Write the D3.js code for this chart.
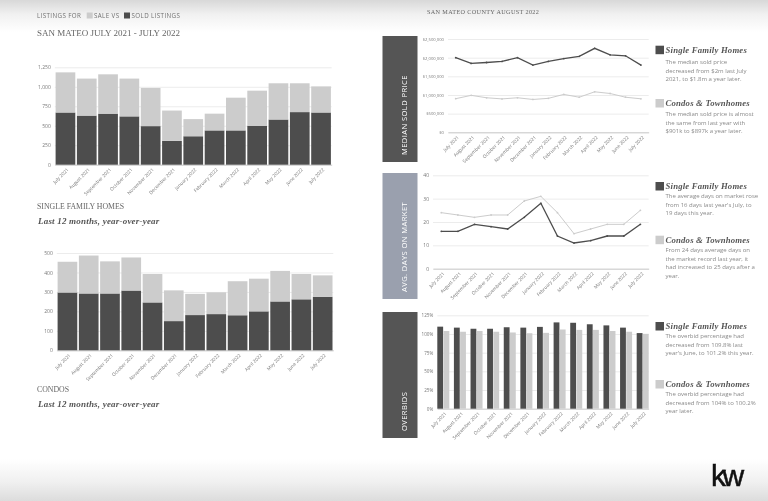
<!DOCTYPE html>
<html>
<head>
<meta charset="utf-8">
<script src="https://cdn.jsdelivr.net/npm/d3@7"></script>
<style>
  html, body { margin: 0; padding: 0; background: #fff; overflow: hidden; }
  svg { display: block; filter: blur(0.35px); }
</style>
</head>
<body>
<svg id="chart" width="768" height="501"></svg>
<script>
const months = ['July 2021', 'August 2021', 'September 2021', 'October 2021', 'November 2021', 'December 2021',
  'January 2022', 'February 2022', 'March 2022', 'April 2022', 'May 2022', 'June 2022', 'July 2022 ']

const houseSold = [670, 630, 655, 620, 495, 305, 365, 440, 440, 500, 580, 675, 670]
const houseForSale = [515, 475, 505, 485, 490, 390, 220, 215, 420, 450, 465, 370, 335]
const condoSold = [297, 292, 292, 307, 246, 150, 181, 186, 180, 200, 251, 262, 275]
const condoForSale = [158, 195, 165, 170, 146, 158, 109, 112, 175, 168, 157, 130, 110]

const priceHouse = [2000000, 1845000, 1870000, 1900000, 2000000, 1800000, 1900000, 1975000, 2035000, 2250000, 2075000, 2050000, 1800000]
const priceCondo = [901000, 990000, 925000, 895000, 925000, 880000, 910000, 1015000, 940000, 1085000, 1040000, 940000, 897000]
const daysHouse = [16, 16, 19, 18, 17, 22, 28, 14, 11, 12, 14, 14, 19]
const daysCondo = [24, 23, 22, 23, 23, 29, 31, 24, 15, 17, 19, 19, 25]
const overbidHouse = [109.8, 108.5, 107, 107, 109, 108.5, 109.5, 115.5, 115, 113, 111.5, 108.5, 101.2]
const overbidCondo = [104, 103, 104, 103, 102, 101, 101.5, 106, 105.5, 105.5, 104, 103, 100.2]

const dark = '#4d4d4d'
const light = '#cccccc'
const gridColor = '#ececec'
const tickColor = '#777'
const headFont = '"Liberation Serif", serif'
const bodyFont = '"Open Sans", sans-serif'

const svg = d3.select('#chart')

// top and bottom grey fades
const defs = svg.append('defs')
const fade = (id, stops) => {
  const g = defs.append('linearGradient').attr('id', id).attr('x1', 0).attr('x2', 0).attr('y1', 0).attr('y2', 1)
  stops.forEach(s => g.append('stop').attr('offset', s[0]).attr('stop-color', s[1]))
}
fade('topFade', [[0, '#d8d8d8'], [0.45, '#f1f1f1'], [1, '#ffffff']])
fade('bottomFade', [[0, '#ffffff'], [0.55, '#f0f0f0'], [1, '#dcdcdc']])
svg.append('rect').attr('width', 768).attr('height', 501).attr('fill', '#fff')
svg.append('rect').attr('width', 768).attr('height', 32).attr('fill', 'url(#topFade)')
svg.append('rect').attr('y', 459).attr('width', 768).attr('height', 42).attr('fill', 'url(#bottomFade)')

function text(str, x, y, size, opts = {}) {
  return svg.append('text')
    .attr('x', x).attr('y', y)
    .attr('font-family', opts.font || bodyFont)
    .attr('font-size', size)
    .attr('font-weight', opts.weight || 400)
    .attr('font-style', opts.style || 'normal')
    .attr('letter-spacing', opts.spacing || 0)
    .attr('fill', opts.color || '#666')
    .text(str)
}

function drawAxes(box, y, ticks, format) {
  const x = d3.scaleBand().domain(months).range([box.left, box.right]).paddingInner(box.gap || 0).paddingOuter(0)

  svg.append('g')
    .attr('transform', `translate(${box.left},0)`)
    .call(d3.axisLeft(y).tickValues(ticks).tickSize(-(box.right - box.left)).tickPadding(4).tickFormat(format))
    .call(g => g.select('.domain').remove())
    .call(g => g.selectAll('.tick line').attr('stroke', gridColor))
    .call(g => g.selectAll('.tick text').attr('fill', tickColor).attr('font-size', box.tickSize || 5).attr('font-family', bodyFont))

  svg.append('g')
    .attr('transform', `translate(0,${box.bottom})`)
    .call(d3.axisBottom(x).tickSize(0).tickPadding(4))
    .call(g => g.select('.domain').attr('stroke', '#ccc'))
    .call(g => g.selectAll('.tick text')
      .attr('fill', tickColor).attr('font-size', 4.7).attr('font-family', bodyFont)
      .attr('text-anchor', 'end').attr('dx', '-0.3em').attr('dy', '0.5em')
      .attr('transform', 'rotate(-45)'))
  return x
}

function stackedBars(box, sold, forSale, max, ticks) {
  const y = d3.scaleLinear().domain([0, max]).range([box.bottom, box.top])
  const x = drawAxes(box, y, ticks, d3.format(','))
  const rows = months.map((m, i) => ({ month: m, sold: sold[i], forSale: forSale[i] }))
  const series = d3.stack().keys(['sold', 'forSale'])(rows)
  const colors = { sold: dark, forSale: light }
  svg.append('g').selectAll('g').data(series).join('g')
    .attr('fill', d => colors[d.key])
    .selectAll('rect').data(d => d).join('rect')
    .attr('x', d => x(d.data.month) + 0.8)
    .attr('width', x.bandwidth() - 1.6)
    .attr('y', d => y(d[1]))
    .attr('height', d => y(d[0]) - y(d[1]))
}

function lines(box, house, condo, max, ticks, format) {
  const y = d3.scaleLinear().domain([0, max]).range([box.bottom, box.top])
  const x = drawAxes(box, y, ticks, format)
  const line = d3.line().x((d, i) => x(months[i]) + x.bandwidth() / 2).y(d => y(d))
  ;[[condo, light, 1], [house, dark, 1.3]].forEach(([vals, color, w]) => {
    svg.append('path').attr('d', line(vals)).attr('fill', 'none').attr('stroke', color).attr('stroke-width', w)
    svg.append('g').selectAll('circle').data(vals).join('circle')
      .attr('cx', (d, i) => x(months[i]) + x.bandwidth() / 2)
      .attr('cy', d => y(d)).attr('r', 0.9).attr('fill', color)
  })
}

function groupedBars(box, house, condo, max, ticks, format) {
  const y = d3.scaleLinear().domain([0, max]).range([box.bottom, box.top])
  const x = drawAxes(box, y, ticks, format)
  const inner = d3.scaleBand().domain([0, 1]).range([0, x.bandwidth()]).paddingOuter(0).paddingInner(0.06)
  ;[[house, dark, 0], [condo, light, 1]].forEach(([vals, color, k]) => {
    svg.append('g').selectAll('rect').data(vals).join('rect')
      .attr('x', (d, i) => x(months[i]) + inner(k))
      .attr('width', inner.bandwidth())
      .attr('y', d => y(d))
      .attr('height', d => y(0) - y(d))
      .attr('fill', color)
  })
}

function sidePanel(label, top, height, color) {
  svg.append('rect').attr('x', 382.5).attr('y', top).attr('width', 35).attr('height', height).attr('fill', color)
  text(label, 0, 0, 7.6, { color: '#fff', spacing: 0.4 })
    .attr('transform', `translate(406.5,${top + height - 7}) rotate(-90)`)
}

function legendBlock(color, title, y, bodyLines, lineY) {
  svg.append('rect').attr('x', 655.5).attr('y', y).attr('width', 8.5).attr('height', 8.5).attr('fill', color)
  text(title, 665.5, y + 7.3, 8.7, { font: headFont, style: 'italic', weight: 700, color: '#555', spacing: 0.2 })
  bodyLines.forEach((l, i) => text(l, 665.5, lineY + i * 8.7, 6, { color: '#8a8a8a' }))
}

// left column headings
const h = { color: '#707070', spacing: 0.4 }
text('LISTINGS FOR', 37, 18, 6.2, h)
svg.append('rect').attr('x', 86.7).attr('y', 12.5).attr('width', 6).attr('height', 6).attr('fill', light)
text('SALE VS', 94, 18, 6.2, h)
svg.append('rect').attr('x', 124).attr('y', 12.5).attr('width', 6).attr('height', 6).attr('fill', dark)
text('SOLD LISTINGS', 131.5, 18, 6.2, h)
text('SAN MATEO JULY 2021 - JULY 2022', 37, 36, 9, { font: headFont, color: '#666' })
text('SINGLE FAMILY HOMES', 37, 209, 7.8, { font: headFont, color: '#666' })
text('Last 12 months, year-over-year', 38, 224, 9, { font: headFont, style: 'italic', weight: 700, color: '#555', spacing: 0.2 })
text('CONDOS', 37, 392, 7.8, { font: headFont, color: '#666' })
text('Last 12 months, year-over-year', 38, 406.5, 9, { font: headFont, style: 'italic', weight: 700, color: '#555', spacing: 0.2 })
text('SAN MATEO COUNTY AUGUST 2022', 427, 14, 6.2, { font: headFont, color: '#666', spacing: 0.35 })

stackedBars({ left: 54.8, right: 331.7, top: 67.3, bottom: 164.7 }, houseSold, houseForSale, 1250, [0, 250, 500, 750, 1000, 1250])
stackedBars({ left: 56.8, right: 333.3, top: 253, bottom: 350.3 }, condoSold, condoForSale, 500, [0, 100, 200, 300, 400, 500])

sidePanel('MEDIAN SOLD PRICE', 36, 126, '#555555')
sidePanel('AVG.  DAYS ON MARKET', 173, 126, '#9aa0ae')
sidePanel('OVERBIDS', 312, 126, '#555555')

lines({ left: 448, right: 648.7, top: 39, bottom: 132.3, tickSize: 4.2 }, priceHouse, priceCondo, 2500000,
  [0, 500000, 1000000, 1500000, 2000000, 2500000], d3.format('$,'))
lines({ left: 433, right: 648.7, top: 175.3, bottom: 268.7 }, daysHouse, daysCondo, 40, [0, 10, 20, 30, 40], d3.format('d'))
groupedBars({ left: 437.3, right: 648.7, top: 315.3, bottom: 408.7, tickSize: 4.6, gap: 0.277 }, overbidHouse, overbidCondo, 125,
  [0, 25, 50, 75, 100, 125], d => d + '%')

legendBlock(dark, 'Single Family Homes', 45.7, ['The median sold price', 'decreased from $2m last July', '2021, to $1.8m a year later.'], 64)
legendBlock(light, 'Condos & Townhomes', 99, ['The median sold price is almost', 'the same from last year with', '$901k to $897k a year later.'], 116)
legendBlock(dark, 'Single Family Homes', 182, ['The average days on market rose', "from 16 days last year's July, to", '19 days this year.'], 198)
legendBlock(light, 'Condos & Townhomes', 235.7, ['From 24 days average days on', 'the market record last year, it', 'had increased to 25 days after a', 'year.'], 252)
legendBlock(dark, 'Single Family Homes', 322, ['The overbid percentage had', 'decreased from 109.8% last', "year's June, to 101.2% this year."], 338)
legendBlock(light, 'Condos & Townhomes', 380, ['The overbid percentage had', 'decreased from 104% to 100.2%', 'year later.'], 396)

// kw logo
text('kw', 711, 486, 30, { font: '"Liberation Sans", sans-serif', color: '#111', spacing: -3.5 })
  .attr('stroke', '#111').attr('stroke-width', 0.5)
</script>
</body>
</html>
